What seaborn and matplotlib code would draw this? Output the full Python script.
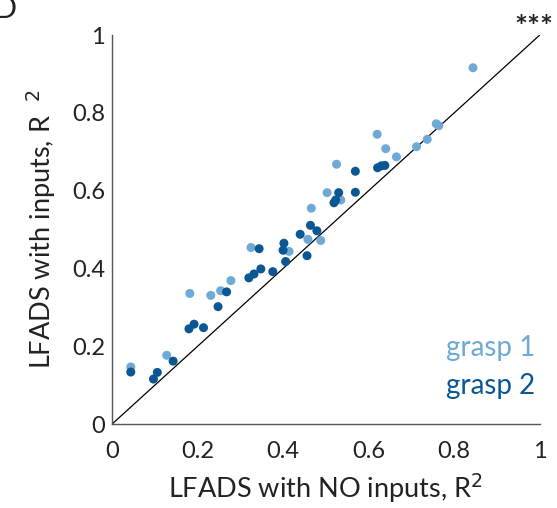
import numpy as np
import pandas as pd
import matplotlib
matplotlib.use("Agg")
import matplotlib.pyplot as plt
import seaborn as sns

# grasp 1 (light)
g1_x = [0.044, 0.128, 0.182, 0.231, 0.254, 0.278, 0.325, 0.414, 0.458, 0.488, 0.466,
        0.503, 0.535, 0.525, 0.620, 0.640, 0.665, 0.712, 0.737, 0.758, 0.764, 0.844]
g1_y = [0.147, 0.177, 0.336, 0.331, 0.343, 0.369, 0.454, 0.444, 0.475, 0.472, 0.555,
        0.595, 0.576, 0.668, 0.745, 0.708, 0.687, 0.713, 0.732, 0.772, 0.767, 0.916]
# grasp 2 (dark)
g2_x = [0.044, 0.106, 0.097, 0.143, 0.180, 0.192, 0.214, 0.248, 0.268, 0.320, 0.332,
        0.348, 0.376, 0.344, 0.402, 0.400, 0.406, 0.440, 0.464, 0.479, 0.456, 0.519,
        0.523, 0.530, 0.569, 0.569, 0.621, 0.630, 0.638]
g2_y = [0.134, 0.133, 0.116, 0.162, 0.245, 0.257, 0.248, 0.302, 0.340, 0.376, 0.386,
        0.399, 0.392, 0.451, 0.465, 0.447, 0.418, 0.488, 0.511, 0.497, 0.433, 0.569,
        0.576, 0.595, 0.596, 0.650, 0.659, 0.664, 0.665]
groups = ["grasp 1", "grasp 2"]
ticks = [0, 0.2, 0.4, 0.6, 0.8, 1]
tick_labels = ["0", "0.2", "0.4", "0.6", "0.8", "1"]

df = pd.DataFrame({
    "x": g1_x + g2_x,
    "y": g1_y + g2_y,
    "grasp": [groups[0]] * len(g1_x) + [groups[1]] * len(g2_x),
})

light = "#6fa9d6"
dark = "#0b5793"

sns.set_style("white")
plt.rcParams["font.family"] = ["Lato", "DejaVu Sans"]

fig = plt.figure(figsize=(5.57, 5.08), dpi=100)
ax = fig.add_axes([0.201, 0.165, 0.768, 0.766])

ax.plot([0, 1], [0, 1], color="black", lw=0.9, zorder=1)
sns.scatterplot(data=df, x="x", y="y", hue="grasp", palette={groups[0]: light, groups[1]: dark},
                s=42, linewidth=0, alpha=1, legend=False, ax=ax, zorder=2)

ax.set_xlim(0, 1)
ax.set_ylim(0, 1)
ax.set_xticks(ticks)
ax.set_yticks(ticks)
ax.set_xticklabels(tick_labels)
ax.set_yticklabels(tick_labels)
for s in ["top", "right"]:
    ax.spines[s].set_visible(False)
for s in ["left", "bottom"]:
    ax.spines[s].set_color("#555555")
    ax.spines[s].set_linewidth(1.0)
ax.tick_params(direction="in", length=5, width=1, color="#555555", labelsize=17,
               labelcolor="#222222")
ax.tick_params(axis="x", pad=12)
ax.tick_params(axis="y", pad=5)
ax.set_xlabel("LFADS with NO inputs, R$^2$", fontsize=19.5, color="#222222", labelpad=7)
ax.set_ylabel("LFADS with inputs, R  $^2$", fontsize=19.5, color="#222222", labelpad=10)

ax.text(0.99, 0.195, groups[0], transform=ax.transAxes, ha="right", va="center",
        fontsize=20, color=light)
ax.text(0.99, 0.097, groups[1], transform=ax.transAxes, ha="right", va="center",
        fontsize=20, color=dark)

fig.text(0.959, 0.945, "***", ha="center", va="center", fontsize=22,
         fontweight="bold", color="#222222")
fig.text(-0.012, 1.01, "D", ha="left", va="top", fontsize=22, color="#222222")

fig.savefig("out.png", dpi=100)
